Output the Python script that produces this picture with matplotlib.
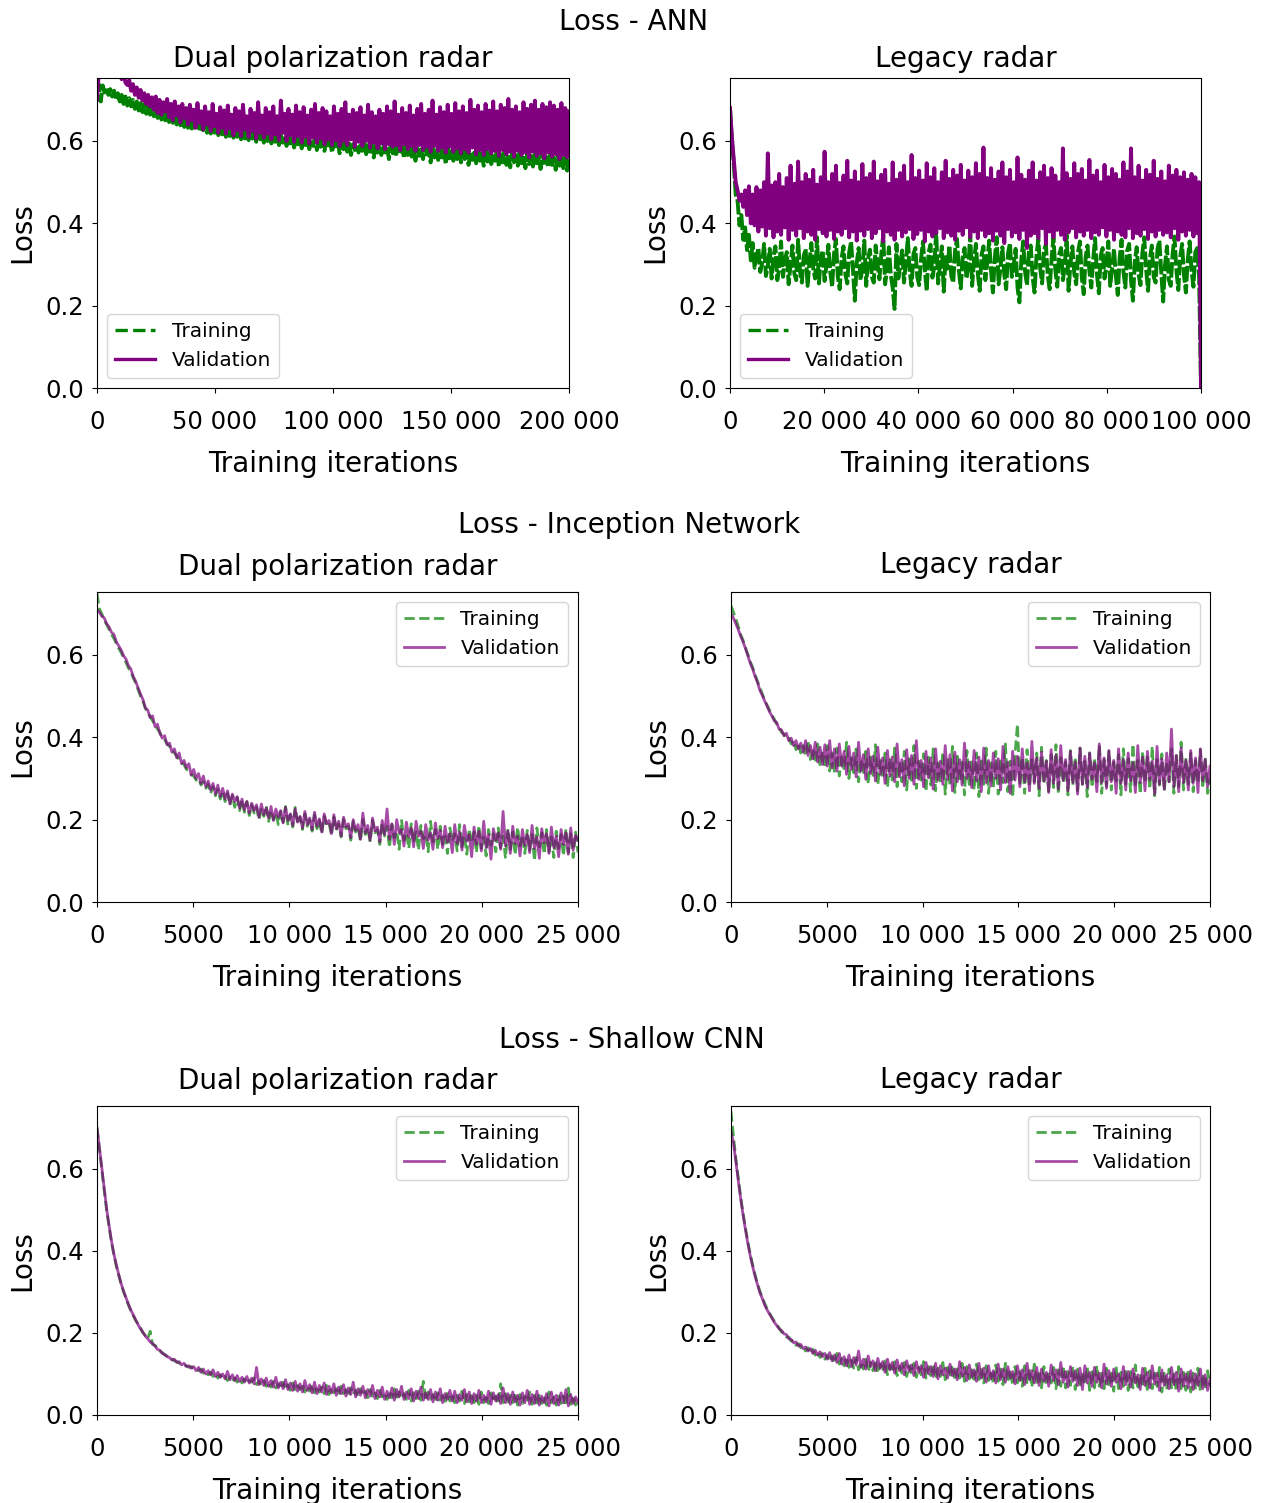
import matplotlib

matplotlib.use("Agg")

import matplotlib.pyplot as plt
import numpy as np
from matplotlib.ticker import FuncFormatter


# loss values are stored in thousandths
LOSS_SCALE = 1000.0

# ---------------------------------------------------------------- ANN
ANN_DUAL_MAX_ITER = 200000
ANN_DUAL_XTICKS = [0, 50000, 100000, 150000, 200000]
ANN_DUAL_TRAIN = [
    720, 738, 696, 735, 718, 730, 712, 726, 708, 722,
    700, 716, 696, 712, 690, 708, 686, 704, 684, 700,
    678, 696, 674, 692, 670, 690, 666, 686, 664, 684,
    660, 680, 656, 676, 652, 674, 650, 670, 646, 668,
    644, 666, 640, 662, 638, 660, 634, 658, 632, 654,
    630, 652, 628, 650, 624, 648, 626, 646, 620, 644,
    618, 642, 620, 640, 614, 638, 616, 636, 610, 634,
    612, 634, 608, 632, 610, 630, 604, 628, 606, 626,
    602, 626, 606, 624, 598, 622, 604, 620, 596, 620,
    600, 618, 594, 616, 598, 616, 590, 614, 596, 612,
    588, 612, 594, 610, 584, 610, 592, 608, 582, 606,
    590, 606, 580, 604, 588, 604, 578, 602, 586, 600,
    576, 600, 584, 598, 572, 598, 582, 596, 570, 596,
    580, 594, 574, 594, 566, 592, 578, 592, 572, 590,
    576, 604, 568, 590, 574, 602, 560, 588, 572, 598,
    566, 596, 572, 586, 556, 594, 570, 584, 564, 590,
    568, 584, 558, 592, 566, 582, 562, 588, 552, 582,
    564, 580, 556, 590, 562, 580, 548, 586, 560, 578,
    554, 584, 560, 576, 544, 582, 558, 576, 552, 574,
    556, 586, 548, 574, 556, 580, 542, 574, 554, 572,
    546, 578, 552, 570, 540, 576, 550, 572, 544, 570,
    552, 578, 538, 568, 548, 574, 542, 568, 536, 572,
    548, 566, 540, 574, 546, 566, 534, 570, 544, 564,
    538, 568, 546, 562, 532, 570, 542, 562, 536, 566,
    542, 560, 530, 566, 540, 558, 534, 564, 528, 556,
]
ANN_DUAL_VAL = [
    700, 770, 790, 775, 800, 765, 785, 770, 795, 760,
    780, 758, 772, 750, 766, 742, 736, 748, 722, 738,
    712, 730, 705, 724, 698, 716, 690, 712, 684, 706,
    676, 708, 668, 700, 664, 694, 672, 702, 658, 690,
    650, 696, 662, 684, 645, 690, 656, 680, 640, 688,
    650, 676, 632, 692, 644, 672, 628, 684, 640, 670,
    624, 690, 636, 666, 620, 682, 632, 674, 618, 686,
    630, 664, 614, 680, 626, 672, 612, 688, 628, 660,
    610, 678, 624, 668, 606, 694, 620, 662, 608, 680,
    618, 670, 604, 684, 616, 660, 602, 698, 620, 666,
    600, 678, 614, 664, 598, 686, 612, 670, 596, 682,
    610, 662, 594, 676, 608, 690, 596, 668, 606, 680,
    592, 672, 604, 660, 590, 684, 602, 666, 588, 678,
    600, 694, 590, 664, 604, 676, 586, 668, 598, 682,
    588, 662, 600, 688, 584, 670, 596, 660, 582, 676,
    594, 666, 580, 684, 592, 672, 586, 696, 590, 664,
    578, 680, 592, 668, 580, 686, 588, 662, 576, 678,
    590, 690, 578, 666, 586, 676, 574, 698, 588, 664,
    576, 682, 584, 670, 572, 688, 586, 666, 574, 692,
    582, 672, 570, 684, 580, 668, 572, 700, 584, 676,
    568, 686, 578, 670, 566, 690, 580, 674, 570, 696,
    576, 672, 564, 688, 578, 680, 568, 702, 574, 676,
    562, 684, 576, 670, 566, 694, 572, 678, 560, 688,
    574, 698, 564, 676, 570, 690, 558, 682, 572, 694,
    562, 686, 568, 676, 556, 692, 566, 680, 560, 672,
]

ANN_LEGACY_MAX_ITER = 100000
ANN_LEGACY_XTICKS = [0, 20000, 40000, 60000, 80000, 100000]
ANN_LEGACY_TRAIN = [
    680, 600, 545, 470, 455, 395, 420, 360, 390, 335,
    372, 310, 352, 292, 318, 340, 282, 304, 350, 272,
    296, 338, 266, 320, 344, 262, 290, 356, 270, 310,
    330, 252, 300, 346, 278, 262, 360, 284, 256, 322,
    338, 248, 306, 352, 290, 266, 366, 254, 312, 334,
    260, 298, 348, 282, 246, 326, 362, 270, 240, 316,
    344, 276, 254, 330, 356, 288, 212, 304, 340, 262,
    292, 358, 248, 314, 336, 270, 256, 346, 300, 264,
    326, 372, 252, 288, 342, 274, 244, 192, 350, 266,
    298, 334, 256, 308, 364, 282, 248, 326, 340, 270,
    250, 314, 356, 286, 236, 330, 348, 268, 296, 380,
    254, 300, 344, 234, 318, 290, 346, 272, 256, 336,
    362, 286, 242, 318, 340, 266, 296, 374, 248, 310,
    350, 278, 236, 324, 344, 262, 304, 358, 284, 232,
    316, 366, 252, 290, 342, 276, 240, 328, 352, 270,
    300, 338, 244, 208, 312, 356, 282, 250, 330, 346,
    268, 232, 320, 362, 290, 254, 336, 348, 272, 240,
    314, 366, 286, 246, 324, 340, 262, 296, 372, 236,
    302, 344, 278, 252, 330, 356, 268, 228, 318, 346,
    284, 244, 312, 364, 276, 230, 322, 340, 266, 298,
    356, 248, 290, 338, 272, 226, 316, 360, 282, 244,
    334, 350, 262, 212, 306, 342, 276, 250, 328, 366,
    288, 236, 314, 346, 270, 256, 338, 358, 280, 210,
    300, 344, 262, 248, 326, 368, 286, 238, 318, 350,
    274, 232, 312, 356, 284, 246, 330, 340, 268, 0,
]
ANN_LEGACY_VAL = [
    680, 610, 555, 500, 480, 455, 470, 440, 480, 420,
    490, 400, 470, 395, 488, 380, 480, 392, 500, 370,
    570, 388, 492, 366, 500, 380, 520, 372, 488, 390,
    510, 360, 540, 384, 496, 370, 550, 388, 500, 364,
    520, 380, 506, 372, 530, 360, 494, 386, 512, 376,
    574, 368, 500, 384, 520, 362, 540, 380, 498, 372,
    516, 388, 552, 366, 504, 380, 526, 358, 500, 382,
    544, 370, 510, 386, 520, 364, 550, 376, 502, 388,
    518, 356, 530, 380, 496, 372, 548, 360, 506, 384,
    522, 368, 540, 378, 500, 386, 566, 362, 510, 374,
    528, 384, 504, 356, 546, 380, 512, 368, 534, 376,
    500, 388, 524, 364, 552, 378, 508, 370, 530, 360,
    516, 382, 542, 372, 504, 390, 528, 366, 512, 380,
    546, 364, 520, 384, 584, 368, 510, 376, 534, 358,
    506, 382, 526, 370, 548, 352, 512, 386, 530, 368,
    500, 378, 560, 362, 518, 384, 506, 340, 528, 370,
    548, 376, 504, 364, 524, 388, 540, 350, 510, 380,
    534, 366, 516, 384, 500, 372, 582, 360, 522, 378,
    508, 388, 546, 366, 520, 380, 532, 370, 504, 384,
    554, 364, 516, 378, 528, 372, 500, 390, 542, 368,
    512, 384, 532, 360, 520, 380, 506, 372, 548, 366,
    526, 388, 582, 364, 512, 376, 540, 370, 504, 386,
    530, 362, 518, 380, 552, 368, 508, 384, 526, 372,
    502, 378, 540, 366, 516, 388, 530, 360, 512, 380,
    524, 370, 506, 384, 520, 368, 512, 376, 500, 0,
]

# ------------------------------------------------------ Inception Network
SHORT_MAX_ITER = 25000
SHORT_XTICKS = [0, 5000, 10000, 15000, 20000, 25000]

INCEPTION_DUAL_TRAIN = [
    750, 712, 700, 684, 674, 662, 650, 640, 628, 616,
    606, 594, 582, 568, 560, 544, 532, 516, 500, 488,
    470, 460, 450, 440, 430, 420, 412, 400, 394, 384,
    378, 368, 362, 354, 346, 338, 334, 322, 320, 310,
    306, 296, 300, 284, 292, 276, 286, 264, 280, 258,
    274, 250, 270, 244, 264, 236, 258, 230, 254, 222,
    248, 218, 244, 210, 236, 216, 230, 200, 226, 208,
    234, 196, 222, 200, 216, 188, 220, 194, 232, 186,
    212, 182, 230, 190, 206, 176, 214, 184, 200, 172,
    212, 178, 198, 166, 208, 186, 192, 162, 206, 174,
    190, 158, 200, 178, 184, 150, 196, 170, 182, 148,
    200, 164, 180, 146, 198, 168, 176, 140, 192, 160,
    184, 132, 188, 156, 172, 128, 198, 150, 168, 130,
    190, 144, 170, 126, 186, 154, 164, 122, 196, 146,
    176, 128, 184, 140, 160, 118, 180, 148, 166, 124,
    188, 134, 162, 116, 178, 144, 170, 120, 186, 130,
    158, 112, 176, 138, 166, 122, 180, 132, 160, 106,
    178, 128, 170, 114, 182, 136, 162, 118, 174, 126,
    164, 100, 180, 134, 168, 116, 176, 122, 158, 108,
    172, 130, 164, 112, 178, 120, 166, 108, 170, 120,
]
INCEPTION_DUAL_VAL = [
    710, 704, 694, 690, 676, 668, 655, 650, 632, 622,
    612, 598, 590, 574, 566, 548, 536, 520, 505, 492,
    472, 466, 448, 452, 426, 432, 410, 398, 404, 382,
    386, 364, 372, 350, 362, 336, 344, 326, 336, 308,
    322, 300, 312, 288, 306, 280, 294, 272, 288, 262,
    284, 256, 276, 250, 270, 238, 262, 244, 256, 228,
    250, 224, 244, 216, 240, 222, 236, 206, 238, 212,
    228, 204, 232, 198, 226, 206, 222, 192, 230, 198,
    214, 186, 226, 194, 208, 180, 220, 188, 204, 176,
    218, 184, 202, 170, 214, 190, 198, 166, 212, 178,
    196, 160, 206, 182, 190, 156, 200, 174, 188, 152,
    216, 168, 186, 150, 204, 172, 182, 146, 198, 164,
    226, 152, 190, 140, 200, 168, 176, 136, 194, 158,
    180, 134, 196, 160, 172, 130, 188, 150, 168, 128,
    192, 154, 174, 132, 184, 146, 166, 120, 188, 142,
    170, 126, 186, 148, 164, 110, 182, 140, 172, 124,
    196, 132, 164, 104, 178, 150, 168, 128, 220, 136,
    172, 118, 184, 142, 160, 112, 176, 138, 164, 120,
    186, 130, 158, 106, 178, 144, 166, 118, 182, 132,
    160, 110, 176, 140, 168, 116, 180, 126, 162, 150,
]

INCEPTION_LEGACY_TRAIN = [
    720, 704, 688, 670, 650, 636, 618, 602, 584, 570,
    552, 536, 520, 506, 490, 478, 466, 454, 444, 432,
    424, 412, 408, 396, 398, 384, 392, 370, 386, 362,
    380, 354, 392, 346, 372, 338, 384, 330, 366, 326,
    380, 318, 362, 314, 374, 306, 356, 320, 388, 300,
    350, 314, 372, 292, 346, 310, 366, 286, 352, 304,
    382, 284, 344, 300, 362, 278, 350, 296, 374, 280,
    340, 292, 366, 272, 348, 288, 380, 276, 342, 296,
    360, 268, 352, 284, 372, 270, 338, 290, 364, 262,
    346, 282, 378, 266, 354, 292, 340, 260, 368, 280,
    344, 272, 362, 256, 350, 286, 374, 264, 338, 278,
    366, 262, 348, 290, 384, 268, 342, 254, 360, 432,
    284, 352, 264, 370, 280, 346, 292, 362, 258, 376,
    286, 344, 266, 358, 278, 382, 262, 350, 290, 340,
    260, 368, 284, 352, 270, 374, 286, 342, 256, 362,
    278, 350, 292, 380, 264, 346, 282, 366, 272, 340,
    294, 358, 260, 372, 286, 348, 268, 384, 280, 344,
    262, 366, 290, 352, 274, 378, 258, 346, 284, 360,
    270, 340, 292, 372, 264, 356, 280, 388, 272, 350,
    286, 362, 268, 344, 290, 370, 276, 352, 264, 300,
]
INCEPTION_LEGACY_VAL = [
    700, 690, 676, 662, 646, 632, 616, 598, 580, 566,
    548, 534, 514, 502, 488, 476, 462, 452, 440, 436,
    420, 418, 404, 410, 392, 398, 380, 392, 372, 386,
    364, 392, 356, 380, 348, 388, 340, 376, 334, 382,
    330, 392, 326, 372, 318, 384, 330, 366, 310, 378,
    322, 362, 304, 388, 318, 358, 298, 372, 312, 354,
    294, 376, 310, 350, 288, 368, 306, 352, 292, 384,
    304, 346, 282, 370, 300, 356, 286, 392, 298, 344,
    280, 366, 302, 350, 274, 372, 296, 342, 286, 380,
    298, 358, 270, 364, 292, 346, 284, 386, 300, 340,
    278, 368, 294, 352, 268, 374, 290, 344, 282, 362,
    300, 348, 272, 378, 290, 340, 264, 366, 296, 354,
    280, 372, 292, 338, 270, 390, 288, 350, 276, 364,
    294, 342, 266, 370, 288, 356, 274, 380, 296, 346,
    270, 366, 290, 340, 262, 374, 286, 354, 278, 362,
    298, 338, 268, 384, 290, 350, 276, 368, 292, 344,
    264, 372, 288, 346, 272, 362, 294, 338, 266, 380,
    290, 352, 270, 366, 296, 342, 262, 378, 286, 348,
    274, 362, 292, 420, 280, 356, 268, 374, 290, 344,
    272, 368, 288, 350, 266, 372, 294, 346, 280, 330,
]

# ----------------------------------------------------------- Shallow CNN
SHALLOW_DUAL_TRAIN = [
    700, 648, 596, 546, 498, 458, 420, 390, 362, 340,
    318, 300, 284, 268, 254, 242, 230, 222, 212, 200,
    194, 186, 204, 172, 170, 162, 156, 152, 146, 144,
    138, 136, 132, 130, 126, 124, 122, 120, 116, 118,
    112, 110, 108, 112, 102, 106, 98, 104, 94, 100,
    90, 98, 88, 94, 84, 92, 82, 90, 80, 88,
    78, 88, 76, 84, 80, 90, 74, 82, 72, 84,
    70, 80, 68, 82, 66, 76, 64, 80, 62, 74,
    60, 78, 58, 72, 62, 76, 56, 70, 58, 74,
    54, 70, 56, 68, 52, 72, 50, 66, 54, 64,
    48, 70, 52, 62, 46, 66, 50, 60, 44, 64,
    48, 58, 42, 62, 46, 56, 40, 60, 44, 54,
    38, 58, 42, 64, 36, 56, 40, 52, 38, 60,
    34, 54, 40, 58, 36, 82, 34, 56, 38, 50,
    32, 54, 36, 48, 30, 56, 34, 52, 30, 48,
    34, 58, 28, 50, 32, 54, 30, 48, 26, 56,
    30, 50, 28, 54, 32, 46, 26, 76, 30, 52,
    26, 48, 30, 54, 24, 50, 28, 46, 32, 56,
    26, 48, 22, 52, 28, 46, 24, 56, 30, 44,
    24, 50, 28, 46, 22, 66, 26, 48, 24, 36,
]
SHALLOW_DUAL_VAL = [
    700, 652, 602, 552, 502, 462, 424, 392, 366, 342,
    320, 302, 286, 270, 256, 244, 232, 220, 210, 202,
    192, 186, 178, 174, 168, 160, 158, 150, 148, 142,
    140, 134, 136, 128, 130, 122, 126, 118, 120, 114,
    118, 108, 116, 104, 112, 100, 108, 98, 110, 94,
    104, 92, 100, 88, 106, 86, 98, 84, 96, 82,
    92, 80, 94, 78, 90, 76, 116, 74, 88, 72,
    90, 70, 84, 68, 92, 66, 80, 64, 86, 62,
    78, 60, 82, 58, 76, 56, 84, 60, 74, 54,
    80, 52, 72, 56, 78, 50, 70, 54, 76, 48,
    68, 52, 74, 46, 66, 50, 80, 44, 64, 48,
    70, 42, 62, 46, 72, 40, 60, 44, 68, 38,
    58, 42, 66, 36, 62, 44, 70, 38, 56, 40,
    64, 34, 58, 40, 68, 36, 54, 38, 62, 32,
    56, 36, 64, 30, 52, 38, 60, 34, 58, 30,
    50, 36, 62, 32, 56, 28, 52, 34, 60, 30,
    48, 32, 58, 26, 54, 34, 50, 28, 66, 30,
    52, 26, 56, 32, 48, 24, 54, 30, 60, 26,
    50, 28, 58, 24, 46, 30, 52, 22, 56, 28,
    48, 24, 54, 30, 62, 22, 50, 28, 44, 30,
]

SHALLOW_LEGACY_TRAIN = [
    740, 680, 626, 578, 532, 492, 456, 422, 392, 366,
    342, 320, 302, 286, 272, 258, 248, 238, 228, 220,
    212, 202, 200, 190, 190, 180, 182, 170, 174, 164,
    168, 156, 164, 150, 160, 146, 154, 140, 150, 136,
    146, 130, 144, 126, 150, 124, 138, 120, 142, 116,
    134, 114, 140, 110, 130, 112, 136, 106, 128, 108,
    134, 102, 124, 106, 132, 98, 122, 104, 130, 96,
    118, 102, 128, 94, 120, 100, 126, 92, 116, 98,
    130, 90, 118, 96, 124, 88, 114, 94, 128, 86,
    116, 92, 122, 84, 112, 90, 126, 82, 118, 88,
    110, 80, 124, 86, 114, 78, 120, 84, 108, 76,
    122, 82, 112, 74, 126, 80, 110, 72, 118, 78,
    106, 70, 120, 76, 112, 68, 124, 74, 108, 66,
    118, 72, 104, 78, 116, 64, 110, 70, 120, 66,
    106, 72, 118, 62, 112, 68, 104, 74, 116, 60,
    110, 66, 120, 70, 102, 64, 114, 68, 108, 58,
    118, 64, 104, 70, 112, 60, 106, 66, 122, 62,
    100, 68, 114, 58, 108, 64, 102, 70, 116, 56,
    106, 62, 112, 66, 100, 58, 118, 64, 104, 60,
    110, 56, 102, 62, 114, 58, 100, 64, 108, 72,
]
SHALLOW_LEGACY_VAL = [
    690, 665, 618, 572, 528, 488, 452, 418, 388, 362,
    338, 318, 298, 284, 268, 256, 246, 236, 226, 218,
    210, 206, 198, 196, 186, 184, 176, 178, 168, 172,
    162, 166, 156, 162, 150, 158, 146, 154, 142, 150,
    136, 152, 132, 146, 128, 150, 124, 142, 120, 146,
    118, 140, 122, 156, 116, 136, 112, 144, 118, 132,
    108, 138, 114, 130, 104, 136, 110, 128, 102, 134,
    108, 126, 98, 132, 106, 122, 96, 130, 104, 120,
    92, 128, 100, 118, 94, 126, 88, 120, 98, 114,
    90, 124, 96, 112, 86, 130, 94, 116, 84, 122,
    92, 110, 82, 126, 90, 114, 80, 120, 88, 108,
    78, 124, 86, 112, 80, 118, 90, 106, 76, 120,
    84, 110, 74, 126, 86, 108, 78, 116, 72, 112,
    82, 104, 70, 122, 84, 110, 74, 128, 80, 106,
    68, 118, 82, 108, 72, 114, 62, 120, 78, 104,
    70, 116, 80, 102, 66, 124, 76, 108, 70, 112,
    80, 100, 64, 118, 74, 106, 68, 112, 78, 98,
    62, 114, 72, 104, 66, 120, 76, 102, 60, 110,
    72, 98, 64, 116, 74, 104, 58, 112, 70, 100,
    66, 108, 62, 100, 72, 112, 64, 98, 60, 88,
]

ROW_TITLES = ["Loss - ANN", "Loss - Inception Network", "Loss - Shallow CNN"]
PANEL_TITLES = ["Dual polarization radar", "Legacy radar"]

FIG_W, FIG_H = 1261, 1503
DPI = 100


def px_rect(left, top, right, bottom):
    # pixel box -> figure fraction [left, bottom, width, height]
    return [left / FIG_W, 1 - bottom / FIG_H, (right - left) / FIG_W, (bottom - top) / FIG_H]


def format_iterations(value, _pos):
    value = int(round(value))
    if value < 10000:
        return str(value)
    return f"{value:,}".replace(",", " ")


def plot_panel(ax, max_iter, xticks, train, val, title, faded, legend_loc, title_pad):
    alpha = 0.7 if faded else 1.0
    width = 2.0 if faded else 2.8
    # the ANN runs were logged so densely that the dashed curve reads as a solid band
    train_style = "--" if faded else (0, (4.0, 0.7))

    x_train = np.linspace(0, max_iter, len(train))
    x_val = np.linspace(0, max_iter, len(val))

    ax.plot(x_train, np.array(train) / LOSS_SCALE, linestyle=train_style, color="green",
            linewidth=width, alpha=alpha, label="Training")
    ax.plot(x_val, np.array(val) / LOSS_SCALE, "-", color="purple",
            linewidth=width, alpha=alpha, label="Validation")

    ax.set_xlim(0, max_iter)
    ax.set_ylim(0, 0.753)
    ax.set_xticks(xticks)
    ax.set_yticks([0.0, 0.2, 0.4, 0.6])
    ax.xaxis.set_major_formatter(FuncFormatter(format_iterations))
    ax.yaxis.set_major_formatter(FuncFormatter(lambda v, _p: f"{v:.1f}"))
    ax.tick_params(axis="x", labelsize=17.5, pad=12)
    ax.tick_params(axis="y", labelsize=17.5, pad=6)

    ax.set_xlabel("Training iterations", fontsize=20, labelpad=12)
    ax.set_ylabel("Loss", fontsize=20, labelpad=6)
    ax.set_title(title, fontsize=20, pad=title_pad)
    legend = ax.legend(loc=legend_loc, fontsize=14.5)
    if not faded:
        handles = legend.get_lines()
        for handle in handles:
            handle.set_linewidth(2.4)
        handles[0].set_linestyle("--")


def main() -> None:
    fig = plt.figure(figsize=(FIG_W / DPI, FIG_H / DPI), dpi=DPI)

    panels = [
        (px_rect(97, 78, 569, 388), ANN_DUAL_MAX_ITER, ANN_DUAL_XTICKS,
         ANN_DUAL_TRAIN, ANN_DUAL_VAL, PANEL_TITLES[0], False, "lower left", 8),
        (px_rect(730, 78, 1201, 388), ANN_LEGACY_MAX_ITER, ANN_LEGACY_XTICKS,
         ANN_LEGACY_TRAIN, ANN_LEGACY_VAL, PANEL_TITLES[1], False, "lower left", 8),
        (px_rect(97, 592, 578, 902), SHORT_MAX_ITER, SHORT_XTICKS,
         INCEPTION_DUAL_TRAIN, INCEPTION_DUAL_VAL, PANEL_TITLES[0], True, "upper right", 12),
        (px_rect(731, 592, 1210, 902), SHORT_MAX_ITER, SHORT_XTICKS,
         INCEPTION_LEGACY_TRAIN, INCEPTION_LEGACY_VAL, PANEL_TITLES[1], True, "upper right", 14),
        (px_rect(97, 1106, 578, 1415), SHORT_MAX_ITER, SHORT_XTICKS,
         SHALLOW_DUAL_TRAIN, SHALLOW_DUAL_VAL, PANEL_TITLES[0], True, "upper right", 12),
        (px_rect(731, 1106, 1210, 1415), SHORT_MAX_ITER, SHORT_XTICKS,
         SHALLOW_LEGACY_TRAIN, SHALLOW_LEGACY_VAL, PANEL_TITLES[1], True, "upper right", 13),
    ]

    for rect, max_iter, xticks, train, val, title, faded, loc, pad in panels:
        ax = fig.add_axes(rect)
        plot_panel(ax, max_iter, xticks, train, val, title, faded, loc, pad)

    row_title_pos = [(634, 22), (629, 525), (632, 1040)]
    for text, (x, y) in zip(ROW_TITLES, row_title_pos):
        fig.text(x / FIG_W, 1 - y / FIG_H, text, fontsize=20, ha="center", va="center")

    fig.savefig("out.png", dpi=DPI)
    plt.close(fig)


if __name__ == "__main__":
    main()
